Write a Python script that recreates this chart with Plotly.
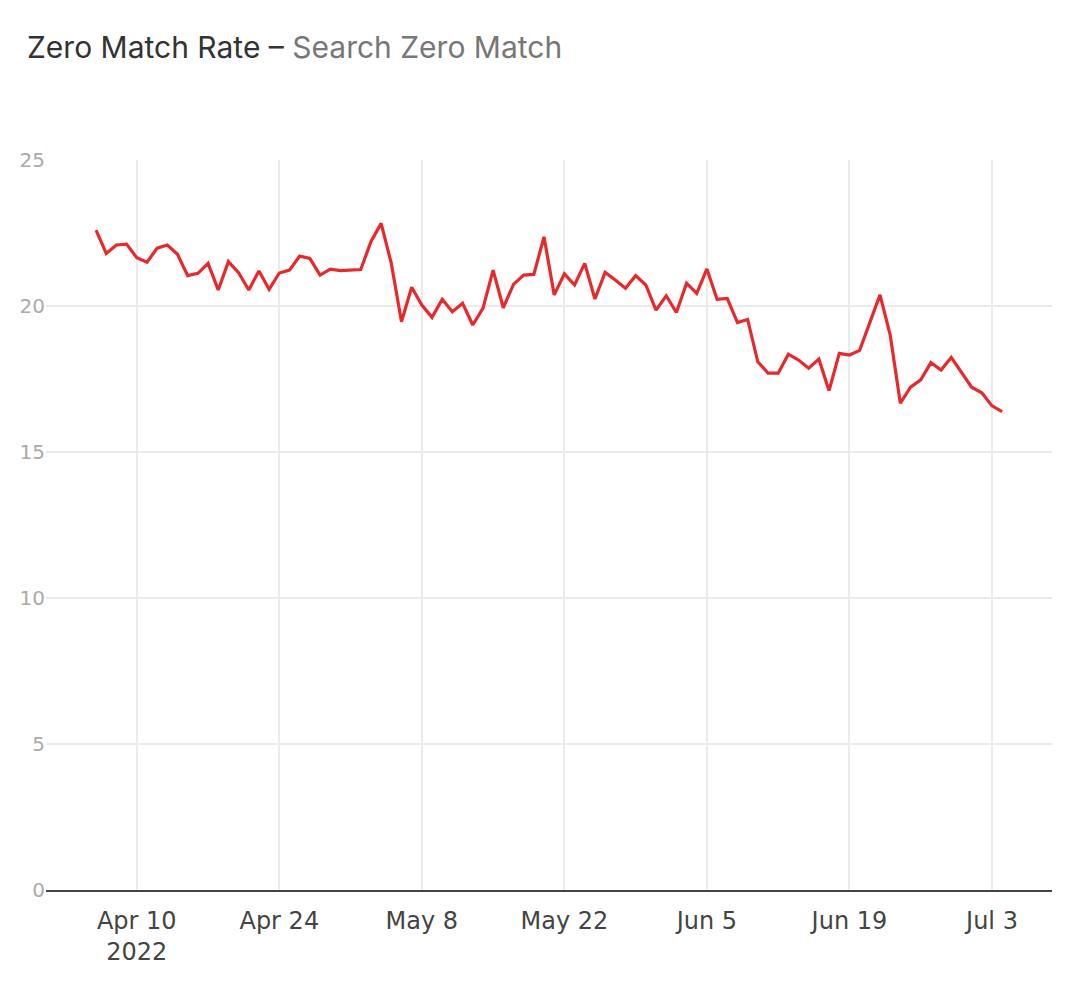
#Zero match rate, daily, Apr-Jul 2022

import pandas as pd
import plotly.graph_objects as go

#daily values (%), one per day starting Apr 6 2022
start_date = "2022-04-06"
zero_match_apr = [22.60, 21.80, 22.09, 22.12, 21.65, 21.50, 21.98, 22.09, 21.77, 21.04,
                  21.12, 21.46, 20.55, 21.52, 21.14, 20.55, 21.20, 20.57, 21.13, 21.23,
                  21.71, 21.63, 21.06, 21.26, 21.21]
zero_match_may = [21.23, 21.25, 22.20, 22.83, 21.46, 19.46, 20.64, 20.03, 19.61, 20.23,
                  19.80, 20.09, 19.35, 19.92, 21.23, 19.94, 20.74, 21.06, 21.08, 22.37,
                  20.38, 21.10, 20.72, 21.46, 20.24, 21.15, 20.89, 20.61, 21.04, 20.72,
                  19.86]
zero_match_jun = [20.35, 19.78, 20.78, 20.43, 21.27, 20.23, 20.26, 19.43, 19.54, 18.09,
                  17.70, 17.70, 18.35, 18.15, 17.87, 18.18, 17.10, 18.38, 18.32, 18.48,
                  19.46, 20.38, 19.01, 16.67, 17.22, 17.47, 18.06, 17.81, 18.24, 17.72]
zero_match_jul = [17.22, 17.03, 16.58, 16.38]

rate = zero_match_apr + zero_match_may + zero_match_jun + zero_match_jul
dates = pd.date_range(start_date, periods=len(rate), freq="D")

y_ticks = [0, 5, 10, 15, 20, 25]

fig = go.Figure()
fig.add_trace(go.Scatter(x=dates, y=rate, mode="lines",
                         line=dict(color="#e8292c", width=3.2),
                         name="Zero Match Rate", hoverinfo="x+y"))

fig.update_xaxes(range=["2022-04-01 02:00", "2022-07-08 21:30"],
                 tick0="2022-04-10", dtick=14 * 86400000,
                 showgrid=True, gridcolor="#ebebeb", gridwidth=1.5,
                 showline=True, linecolor="#444", linewidth=2,
                 ticks="outside", ticklen=8, tickcolor="rgba(0,0,0,0)",
                 tickfont=dict(family="DejaVu Sans", size=24, color="#444"),
                 zeroline=False)
fig.update_yaxes(range=[0, 25], tickvals=y_ticks,
                 showgrid=True, gridcolor="#ebebeb", gridwidth=1.5,
                 showline=False, zeroline=False,
                 tickfont=dict(family="DejaVu Sans", size=20, color="#aaa"))

#page is drawn 8px in from the top-left corner, so margins are shifted back
fig.update_layout(width=1070, height=984,
                  margin=dict(l=38, r=26, t=152, b=102),
                  paper_bgcolor="white", plot_bgcolor="white",
                  showlegend=False,
                  title=dict(text="Zero Match Rate – <span style='color:#777'>Search Zero Match</span>",
                             x=19 / 1070, xanchor="left", y=1 - 39 / 984, yanchor="middle",
                             font=dict(family="Inter", size=30, color="#333")))

fig.write_html("out.html")
